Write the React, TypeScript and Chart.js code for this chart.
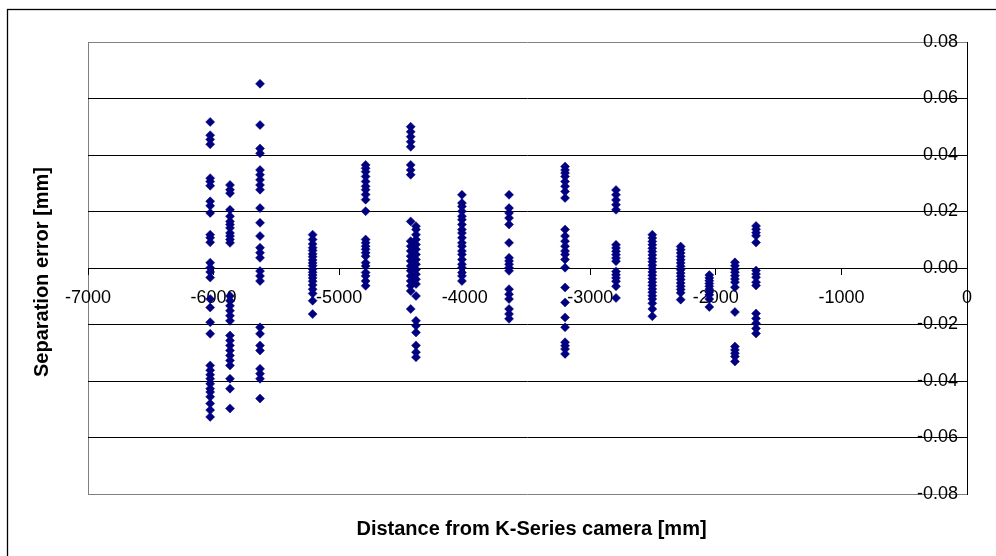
import React, { useEffect, useRef } from "react";
import { Chart, registerables } from "chart.js";

Chart.register(...registerables);

// Distances (mm) of each measurement column
const distances = [
  -6027, -5869, -5630, -5211, -4789, -4430, -4388, -4022, -3647, -3201, -2795, -2506, -2280, -2052, -1848, -1680,
];

// Separation errors (mm) measured at each distance
const errA = [0.0517, 0.047, 0.0455, 0.0438, 0.0318, 0.0306, 0.0291, 0.0236, 0.022, 0.0195, 0.0118, 0.0107, 0.0091, 0.0019, 0.0001, -0.0014, -0.0034, -0.011, -0.014, -0.0192, -0.0233, -0.0345, -0.0362, -0.0378, -0.0392, -0.041, -0.0427, -0.0439, -0.0456, -0.048, -0.0503, -0.0527];
const errB = [0.0294, 0.0277, 0.0265, 0.0206, 0.0183, 0.0165, 0.0154, 0.0142, 0.0124, 0.0113, 0.0101, 0.0089, -0.0099, -0.0116, -0.0134, -0.0151, -0.0169, -0.0187, -0.0239, -0.0257, -0.0274, -0.0292, -0.031, -0.0327, -0.0345, -0.0392, -0.0427, -0.0497];
const errC = [0.0652, 0.0506, 0.0423, 0.0406, 0.0347, 0.033, 0.0312, 0.0294, 0.0277, 0.0212, 0.016, 0.0113, 0.0072, 0.0054, 0.0036, -0.0011, -0.0028, -0.0046, -0.021, -0.0233, -0.0274, -0.0292, -0.0357, -0.0374, -0.0392, -0.0462];
const errD = [0.0118, 0.0101, 0.0085, 0.0072, 0.0062, 0.005, 0.004, 0.0028, 0.0018, 0.0008, -0.0004, -0.0015, -0.0025, -0.0035, -0.0047, -0.006, -0.0075, -0.009, -0.0116, -0.0163];
const errE = [0.0365, 0.0353, 0.0341, 0.0324, 0.0306, 0.0289, 0.0277, 0.026, 0.0242, 0.0201, 0.0101, 0.0089, 0.0077, 0.0066, 0.0054, 0.0042, 0.0019, 0.0007, -0.0016, -0.0028, -0.0046, -0.0063];
const errF = [0.05, 0.0482, 0.0465, 0.0447, 0.0429, 0.0365, 0.0347, 0.033, 0.0165, 0.0095, 0.0077, 0.006, 0.0042, 0.0025, 0.0007, -0.001, -0.0028, -0.0046, -0.0063, -0.0081, -0.0145];
const errF2 = [0.0148, 0.0136, 0.0118, 0.0101, 0.0083, 0.0066, 0.0048, 0.003, 0.0013, -0.0005, -0.0022, -0.004, -0.0057, -0.0099, -0.0187, -0.0204, -0.0228, -0.0274, -0.0298, -0.0316];
const errG = [0.0259, 0.023, 0.0218, 0.0201, 0.0183, 0.0171, 0.0154, 0.0136, 0.0124, 0.0107, 0.0089, 0.0077, 0.006, 0.0048, 0.003, 0.0013, 0.0001, -0.0016, -0.0028, -0.0046];
const errH = [0.0259, 0.0212, 0.0195, 0.0177, 0.0154, 0.0089, 0.0036, 0.0025, 0.0013, 0.0001, -0.001, -0.0075, -0.0093, -0.011, -0.0145, -0.0163, -0.018];
const errI = [0.0359, 0.0347, 0.0336, 0.0324, 0.0306, 0.0289, 0.0271, 0.0248, 0.0136, 0.0113, 0.0095, 0.0077, 0.006, 0.0048, 0.003, 0.0001, -0.0069, -0.0122, -0.0175, -0.021, -0.0263, -0.0275, -0.0287, -0.0304];
const errJ = [0.0276, 0.0259, 0.0241, 0.0224, 0.0206, 0.0082, 0.0071, 0.0059, 0.0047, 0.0035, 0.0024, -0.0012, -0.0024, -0.0035, -0.0047, -0.0065, -0.0106];
const errK = [0.0118, 0.0106, 0.0094, 0.0082, 0.007, 0.0058, 0.0046, 0.0034, 0.0022, 0.001, -0.0002, -0.0014, -0.0026, -0.0038, -0.005, -0.0062, -0.0074, -0.0086, -0.0098, -0.011, -0.0125, -0.0145, -0.0171];
const errL = [0.0076, 0.0065, 0.0053, 0.0041, 0.0029, 0.0018, 0.0006, -0.0006, -0.0018, -0.0029, -0.0041, -0.0053, -0.0065, -0.0076, -0.0088, -0.0112];
const errM = [-0.0025, -0.0035, -0.0045, -0.0055, -0.0065, -0.0075, -0.0085, -0.0095, -0.011, -0.0138];
const errN = [0.002, 0.0008, -0.0004, -0.0015, -0.0027, -0.0039, -0.005, -0.0068, -0.0156, -0.0278, -0.029, -0.0302, -0.0313, -0.0331];
const errO = [0.0149, 0.0137, 0.0125, 0.0114, 0.009, -0.0009, -0.0021, -0.0033, -0.005, -0.0062, -0.0161, -0.0179, -0.0196, -0.0214, -0.0232];

const errorColumns = [errA, errB, errC, errD, errE, errF, errF2, errG, errH, errI, errJ, errK, errL, errM, errN, errO];

const xTitle = "Distance from K-Series camera [mm]";
const yTitle = "Separation error [mm]";

const FONT = "'Liberation Sans', Arial, sans-serif";

export default function App() {
  const ref = useRef<HTMLCanvasElement | null>(null);

  useEffect(() => {
    if (!ref.current) return;
    const points: { x: number; y: number }[] = [];
    distances.forEach((d, i) => {
      errorColumns[i].forEach((e) => points.push({ x: d, y: e }));
    });

    const framePlugin = {
      id: "frame",
      beforeDraw(chart: any) {
        const ctx = chart.ctx;
        ctx.save();
        ctx.fillStyle = "#ffffff";
        ctx.fillRect(0, 0, chart.width, chart.height);
        ctx.strokeStyle = "#000000";
        ctx.lineWidth = 1.3;
        ctx.strokeRect(7.5, 9.5, 1200, 800);
        const a = chart.chartArea;
        ctx.strokeStyle = "#808080";
        ctx.lineWidth = 1;
        ctx.beginPath();
        ctx.moveTo(Math.round(a.left) + 0.5, a.top);
        ctx.lineTo(Math.round(a.left) + 0.5, a.bottom);
        ctx.stroke();
        ctx.restore();
      },
      afterDraw(chart: any) {
        const ctx = chart.ctx;
        const a = chart.chartArea;
        ctx.save();
        ctx.fillStyle = "#000000";
        ctx.font = `bold 20px ${FONT}`;
        ctx.textAlign = "center";
        ctx.textBaseline = "middle";
        ctx.fillText(xTitle, (a.left + a.right) / 2 + 4, 529);
        ctx.translate(42, (a.top + a.bottom) / 2 + 4);
        ctx.rotate(-Math.PI / 2);
        ctx.fillText(yTitle, 0, 0);
        ctx.restore();
      },
    };

    const chart = new Chart(ref.current, {
      type: "scatter",
      data: {
        datasets: [
          {
            data: points,
            pointStyle: "rectRot",
            pointRadius: 4.5,
            pointBorderWidth: 0.5,
            backgroundColor: "#000080",
            borderColor: "#000080",
          },
        ],
      },
      options: {
        animation: false,
        responsive: false,
        devicePixelRatio: 1,
        layout: { padding: { left: 88, right: 29, top: 42, bottom: 62 } },
        plugins: { legend: { display: false }, tooltip: { enabled: false } },
        scales: {
          x: {
            type: "linear",
            min: -7000,
            max: 0,
            position: { y: 0 } as any,
            ticks: {
              stepSize: 1000,
              color: "#000",
              padding: 13,
              font: { family: FONT, size: 18 },
              callback: (v: any) => String(v),
            },
            grid: { drawOnChartArea: false, drawTicks: true, tickLength: 6, color: "#000" },
            border: { color: "#000", width: 1 },
          },
          y: {
            type: "linear",
            min: -0.08,
            max: 0.08,
            position: "right",
            ticks: {
              stepSize: 0.02,
              mirror: true,
              padding: -9,
              color: "#000",
              font: { family: FONT, size: 18 },
              callback: (v: any) => Number(v).toFixed(2),
            },
            grid: {
              drawTicks: false,
              color: (ctx: any) =>
                Math.abs(Math.abs(ctx.tick?.value ?? 0) - 0.08) < 1e-9 ? "#808080" : "#000000",
              lineWidth: 1,
            },
            border: { color: "#000", width: 1 },
          },
        },
      },
      plugins: [framePlugin],
    });
    return () => chart.destroy();
  }, []);

  return (
    <div style={{ position: "absolute", left: 0, top: 0, width: 996, height: 556 }}>
      <canvas ref={ref} width={996} height={556} />
    </div>
  );
}
